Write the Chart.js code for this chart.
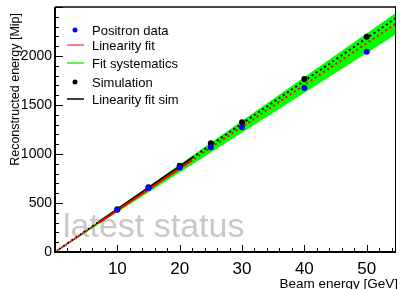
<!DOCTYPE html>
<html>
<head>
<meta charset="utf-8">
<script src="https://cdn.jsdelivr.net/npm/chart.js@4.4.0/dist/chart.umd.min.js"></script>
<style>
  html, body { margin: 0; padding: 0; background: #fff; }
  #wrap { width: 400px; height: 289px; }
</style>
</head>
<body>
<div id="wrap"><canvas id="chart" width="400" height="289"></canvas></div>
<script>
// Measurements
const energies = [10, 15, 20, 25, 30, 40, 50];
const positronData = [430, 652, 862, 1069, 1273, 1673, 2043];
const simulationData = [436, 660, 879, 1109, 1324, 1765, 2196];

// Fit lines (solid inside fit range, dotted outside)
const fitX = [0, 7, 22, 55];
const fitData = [0, 298, 937, 2343];
const fitSimData = [0, 306, 962, 2400];

// Systematics band edges
const bandX = [0, 55];
const bandUpper = [0, 2455];
const bandLower = [0, 2235];

// Axes
const xTickLabels = [10, 20, 30, 40, 50];
const yTickLabels = [0, 500, 1000, 1500, 2000];
const xMax = 54.7;
const yMax = 2500;

const FONT = '"Liberation Sans", Arial, Helvetica, sans-serif';

function pts(xs, ys) {
    return xs.map((x, i) => ({ x: x, y: ys[i] }));
}

const dotted = (ctx) => ctx.p0DataIndex === 1 ? undefined : [2, 3];

const rootStyle = {
    id: 'rootStyle',
    beforeDatasetsDraw(chart) {
        const c = chart.ctx;
        c.save();
        c.fillStyle = '#c8c8c8';
        c.font = '34px ' + FONT;
        c.textBaseline = 'alphabetic';
        c.fillText('latest status', 63, 237);
        c.restore();
    },
    afterDraw(chart) {
        const c = chart.ctx;
        const a = chart.chartArea;
        const xs = chart.scales.x;
        const ys = chart.scales.y;
        c.save();

        // frame
        c.strokeStyle = '#444';
        c.lineWidth = 2;
        c.beginPath(); c.moveTo(a.left, a.top); c.lineTo(a.right, a.top); c.stroke();
        c.strokeStyle = '#000';
        c.lineWidth = 1;
        c.beginPath(); c.moveTo(a.right - 0.5, a.top); c.lineTo(a.right - 0.5, a.bottom); c.stroke();
        c.lineWidth = 2;
        c.beginPath(); c.moveTo(a.left, a.top); c.lineTo(a.left, a.bottom); c.lineTo(a.right, a.bottom); c.stroke();

        // ticks, pointing inward
        c.lineWidth = 1;
        c.beginPath();
        for (let v = 2; v <= xMax; v += 2) {
            const px = Math.round(xs.getPixelForValue(v)) + 0.5;
            const len = v % 10 === 0 ? 7 : 4;
            c.moveTo(px, a.bottom); c.lineTo(px, a.bottom - len);
        }
        for (let v = 100; v <= yMax; v += 100) {
            const py = Math.round(ys.getPixelForValue(v)) + 0.5;
            const len = v % 500 === 0 ? 8 : 4;
            c.moveTo(a.left, py); c.lineTo(a.left + len, py);
        }
        c.stroke();

        // tick labels
        c.fillStyle = '#000';
        c.font = '17px ' + FONT;
        c.textAlign = 'center';
        c.textBaseline = 'alphabetic';
        xTickLabels.forEach(v => c.fillText(String(v), xs.getPixelForValue(v), 274));
        c.font = '14px ' + FONT;
        c.textAlign = 'right';
        c.textBaseline = 'middle';
        yTickLabels.forEach(v => c.fillText(String(v), 52, ys.getPixelForValue(v)));

        // axis titles
        c.font = '13.5px ' + FONT;
        c.textAlign = 'right';
        c.textBaseline = 'alphabetic';
        c.fillText('Beam energy [GeV]', 398, 288);
        c.save();
        c.translate(19, 13);
        c.rotate(-Math.PI / 2);
        c.font = '12.5px ' + FONT;
        c.fillText('Reconstructed energy [Mip]', 0, 0);
        c.restore();

        // legend
        const rows = [
            { label: 'Positron data', type: 'dot', color: '#0000ff', y: 30 },
            { label: 'Linearity fit', type: 'line', color: '#ff5555', y: 45 },
            { label: 'Fit systematics', type: 'line', color: '#22ee22', y: 63 },
            { label: 'Simulation', type: 'dot', color: '#000000', y: 82 },
            { label: 'Linearity fit sim', type: 'line', color: '#000000', y: 99 }
        ];
        c.font = '13px ' + FONT;
        c.textAlign = 'left';
        c.textBaseline = 'middle';
        rows.forEach(r => {
            if (r.type === 'dot') {
                c.fillStyle = r.color;
                c.beginPath(); c.arc(75, r.y, 2.5, 0, Math.PI * 2); c.fill();
            } else {
                c.strokeStyle = r.color;
                c.lineWidth = 1.5;
                c.beginPath(); c.moveTo(67, r.y); c.lineTo(84, r.y); c.stroke();
            }
            c.fillStyle = '#000';
            c.fillText(r.label, 92, r.y + 1);
        });
        c.restore();
    }
};

const ctx = document.getElementById('chart').getContext('2d');
const chart = new Chart(ctx, {
    type: 'scatter',
    data: {
        datasets: [
            {
                label: 'Positron data',
                data: pts(energies, positronData),
                backgroundColor: '#0000ff',
                borderColor: '#0000ff',
                pointRadius: 3,
                pointBorderWidth: 0,
                order: 0
            },
            {
                label: 'Simulation',
                data: pts(energies, simulationData),
                backgroundColor: '#000000',
                borderColor: '#000000',
                pointRadius: 3,
                pointBorderWidth: 0,
                order: 1
            },
            {
                label: 'Linearity fit',
                data: pts(fitX, fitData),
                showLine: true,
                borderColor: '#ff0000',
                borderWidth: 2,
                pointRadius: 0,
                segment: { borderDash: dotted },
                borderDashOffset: 2.5,
                order: 2
            },
            {
                label: 'Linearity fit sim',
                data: pts(fitX, fitSimData),
                showLine: true,
                borderColor: '#000000',
                borderWidth: 2,
                pointRadius: 0,
                segment: { borderDash: dotted },
                order: 3
            },
            {
                label: 'Fit systematics',
                data: pts(bandX, bandUpper),
                showLine: true,
                borderWidth: 0,
                borderColor: 'rgba(0,0,0,0)',
                backgroundColor: '#00ff00',
                pointRadius: 0,
                fill: '+1',
                order: 4
            },
            {
                label: 'band lower',
                data: pts(bandX, bandLower),
                showLine: true,
                borderWidth: 0,
                borderColor: 'rgba(0,0,0,0)',
                pointRadius: 0,
                fill: false,
                order: 5
            }
        ]
    },
    options: {
        responsive: false,
        animation: false,
        devicePixelRatio: 1,
        layout: { padding: { left: 55, top: 7, right: 3, bottom: 37 } },
        scales: {
            x: { type: 'linear', min: 0, max: xMax, display: false },
            y: { type: 'linear', min: 0, max: yMax, display: false }
        },
        plugins: {
            legend: { display: false },
            tooltip: { enabled: false }
        }
    },
    plugins: [rootStyle]
});
</script>
</body>
</html>
